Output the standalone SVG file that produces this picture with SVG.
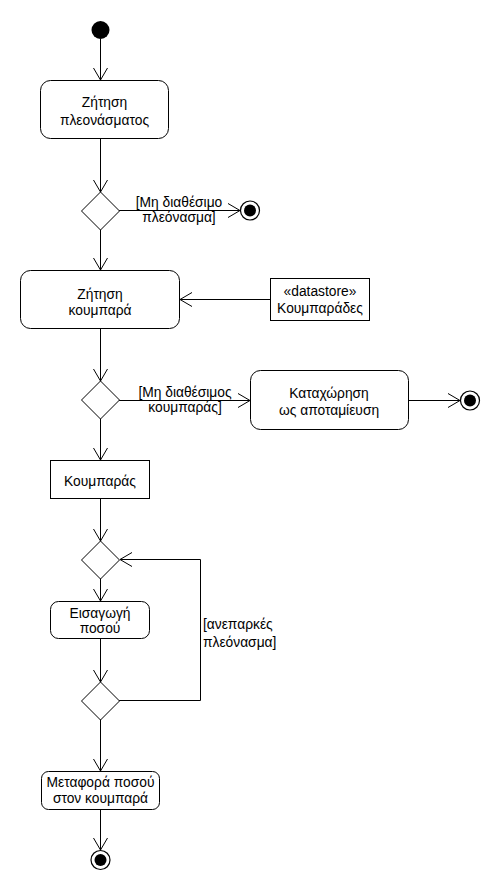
<svg xmlns="http://www.w3.org/2000/svg" width="500" height="890" viewBox="0 0 500 890">
<style>
  .n { fill: #fff; stroke: #000; stroke-width: 1; }
  .t { font-family: "Liberation Sans", Arial, sans-serif; font-size: 13.8px; fill: #000; text-anchor: middle; }
  .g { font-family: "Liberation Sans", Arial, sans-serif; font-size: 13.8px; fill: #000; }
  .c { fill: none; stroke: #000; stroke-width: 1; }
</style>
<defs>
  <marker id="arr" viewBox="0 0 14 16" refX="13" refY="8" markerWidth="14" markerHeight="16" markerUnits="userSpaceOnUse" orient="auto">
    <path d="M1,1 L13,8 L1,15" fill="none" stroke="#000" stroke-width="1"/>
  </marker>
</defs>
<rect width="500" height="890" fill="#fff"/>
<g id="connectors">
  <line class="c" x1="100.5" y1="39" x2="100.5" y2="80" marker-end="url(#arr)"/>
  <line class="c" x1="100.5" y1="138" x2="100.5" y2="192" marker-end="url(#arr)"/>
  <line class="c" x1="119" y1="210.5" x2="240" y2="210.5" marker-end="url(#arr)"/>
  <line class="c" x1="100.5" y1="230" x2="100.5" y2="270" marker-end="url(#arr)"/>
  <line class="c" x1="270" y1="299.5" x2="180" y2="299.5" marker-end="url(#arr)"/>
  <line class="c" x1="100.5" y1="328" x2="100.5" y2="381" marker-end="url(#arr)"/>
  <line class="c" x1="119" y1="400.5" x2="250" y2="400.5" marker-end="url(#arr)"/>
  <line class="c" x1="408" y1="400.5" x2="460" y2="400.5" marker-end="url(#arr)"/>
  <line class="c" x1="100.5" y1="419" x2="100.5" y2="460" marker-end="url(#arr)"/>
  <line class="c" x1="100.5" y1="498" x2="100.5" y2="541" marker-end="url(#arr)"/>
  <line class="c" x1="100.5" y1="578" x2="100.5" y2="601" marker-end="url(#arr)"/>
  <line class="c" x1="100.5" y1="638" x2="100.5" y2="682" marker-end="url(#arr)"/>
  <polyline class="c" points="119,700.5 200.5,700.5 200.5,559.5 120,559.5" marker-end="url(#arr)"/>
  <line class="c" x1="100.5" y1="719" x2="100.5" y2="771" marker-end="url(#arr)"/>
  <line class="c" x1="100.5" y1="809" x2="100.5" y2="850" marker-end="url(#arr)"/>
  <text class="t" x="179" y="207">[Μη διαθέσιμο</text>
  <text class="t" x="179" y="222">πλεόνασμα]</text>
  <text class="t" x="185" y="397">[Μη διαθέσιμος</text>
  <text class="t" x="185" y="412">κουμπαράς]</text>
  <text class="g" x="203" y="629">[ανεπαρκές</text>
  <text class="g" x="203" y="647">πλεόνασμα]</text>
</g>
<g id="start">
  <circle cx="100.5" cy="30" r="9" fill="#000"/>
</g>
<g id="zitisi-pleonasmatos">
  <rect class="n" x="40.5" y="80.5" width="128" height="58" rx="10"/>
  <text class="t" x="104.5" y="107">Ζήτηση</text>
  <text class="t" x="104.5" y="125">πλεονάσματος</text>
</g>
<g id="decision1">
  <polygon class="n" points="100.5,192 119.5,211 100.5,230 81.5,211"/>
</g>
<g id="final1">
  <circle cx="250" cy="210.5" r="9.5" fill="#fff" stroke="#000" stroke-width="1.2"/>
  <circle cx="250" cy="210.5" r="6" fill="#000"/>
</g>
<g id="zitisi-koumpara">
  <rect class="n" x="20.5" y="270.5" width="159" height="58" rx="10"/>
  <text class="t" x="100" y="299">Ζήτηση</text>
  <text class="t" x="100" y="315">κουμπαρά</text>
</g>
<g id="datastore">
  <rect class="n" x="270.5" y="278.5" width="99" height="42"/>
  <text class="t" x="320" y="296">«datastore»</text>
  <text class="t" x="320" y="313">Κουμπαράδες</text>
</g>
<g id="decision2">
  <polygon class="n" points="100.5,381 119.5,400 100.5,419 81.5,400"/>
</g>
<g id="kataxorisi">
  <rect class="n" x="250.5" y="370.5" width="158" height="59" rx="10"/>
  <text class="t" x="329" y="398">Καταχώρηση</text>
  <text class="t" x="329" y="415">ως αποταμίευση</text>
</g>
<g id="final2">
  <circle cx="470" cy="400.5" r="9.5" fill="#fff" stroke="#000" stroke-width="1.2"/>
  <circle cx="470" cy="400.5" r="6" fill="#000"/>
</g>
<g id="koumparas">
  <rect class="n" x="50.5" y="460.5" width="99" height="38"/>
  <text class="t" x="100" y="486">Κουμπαράς</text>
</g>
<g id="decision3">
  <polygon class="n" points="100.5,541 119.5,560 100.5,579 81.5,560"/>
</g>
<g id="eisagogi">
  <rect class="n" x="50.5" y="601.5" width="99" height="37" rx="8"/>
  <text class="t" x="100" y="618">Εισαγωγή</text>
  <text class="t" x="100" y="633">ποσού</text>
</g>
<g id="decision4">
  <polygon class="n" points="100.5,682 119.5,701 100.5,720 81.5,701"/>
</g>
<g id="metafora">
  <rect class="n" x="41.5" y="771.5" width="118" height="38" rx="7"/>
  <text class="t" x="100.5" y="787">Μεταφορά ποσού</text>
  <text class="t" x="100.5" y="803">στον κουμπαρά</text>
</g>
<g id="final3">
  <circle cx="100.5" cy="860" r="9.5" fill="#fff" stroke="#000" stroke-width="1.2"/>
  <circle cx="100.5" cy="860" r="6" fill="#000"/>
</g>
</svg>
